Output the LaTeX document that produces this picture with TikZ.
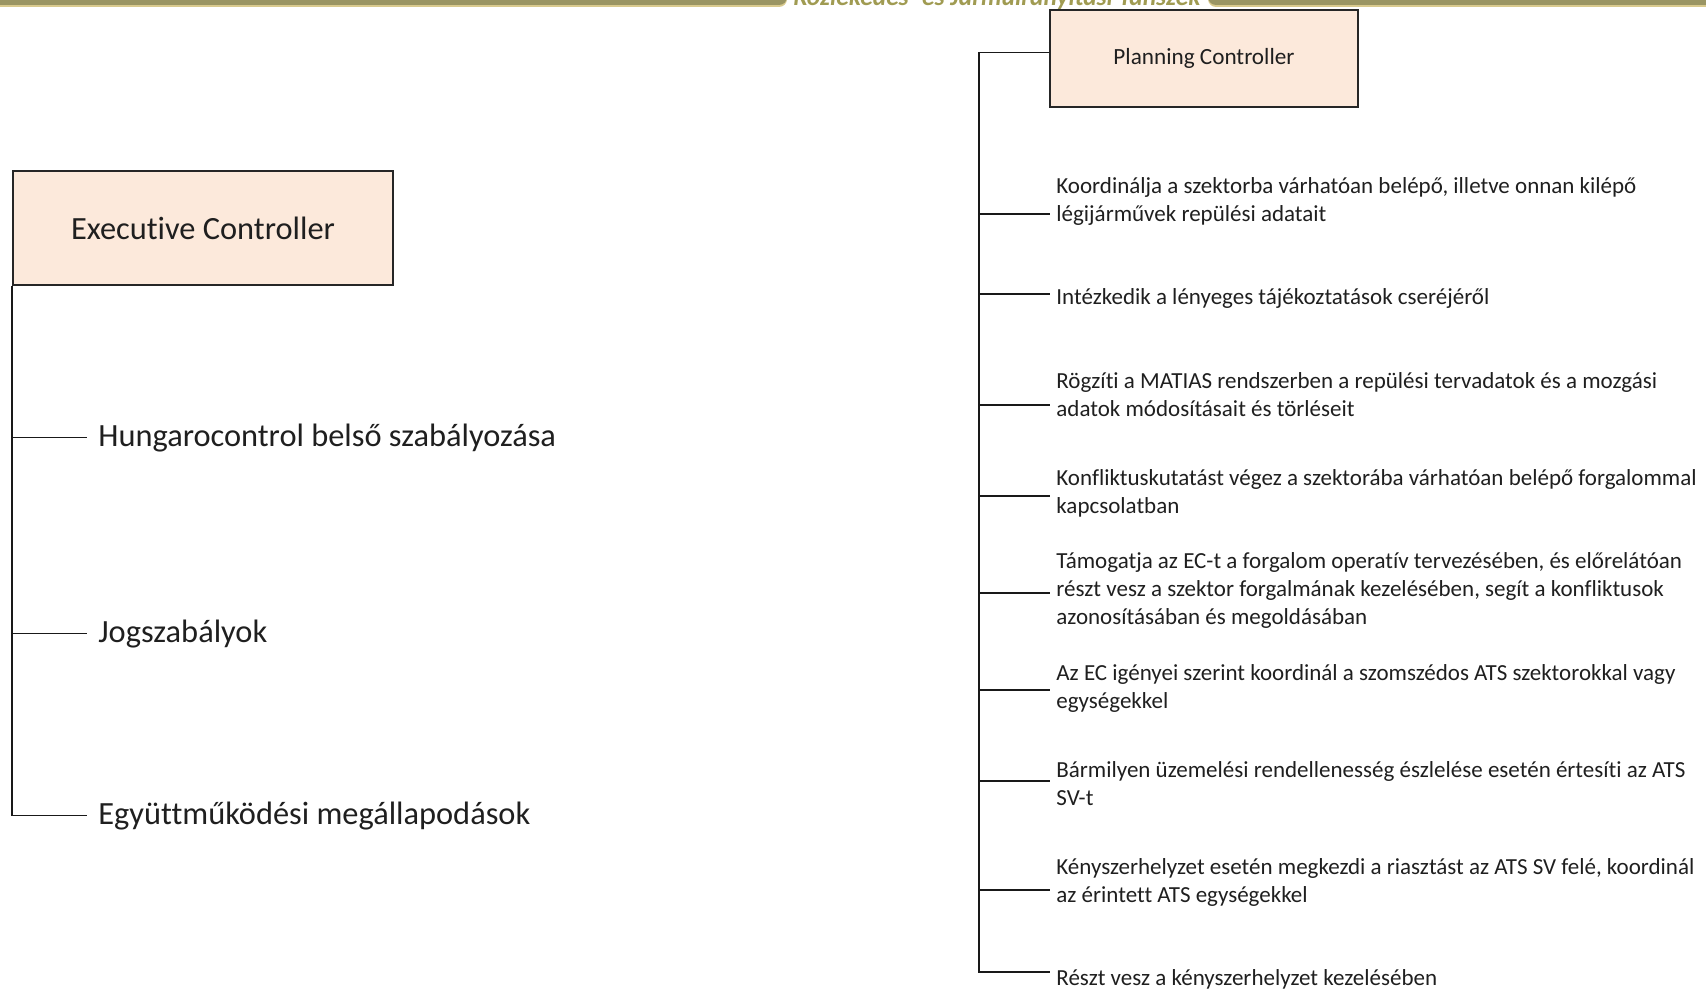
\documentclass[tikz,border=0pt]{standalone}
\usepackage{fontspec}
\setmainfont{Carlito}[Ligatures=NoCommon]
\usetikzlibrary{calc,positioning}
\definecolor{bandolive}{HTML}{9A9563}
\definecolor{bandedge}{HTML}{D9CA8E}
\definecolor{depttext}{HTML}{A09B52}
\definecolor{rolefill}{HTML}{FCE9DB}

\begin{document}
\begin{tikzpicture}[x=0.5pt,y=-0.5pt,
        role/.style={draw=black!85,line width=1pt,fill=rolefill,inner sep=0pt},
        branch/.style={line width=0.95pt,black!90},
        source/.style={anchor=base west,inner sep=0pt,text=black!88,font=\fontsize{16.2}{19}\selectfont},
        duty/.style={anchor=base west,align=left,inner sep=0pt,text=black!88,font=\fontsize{11.5}{13.9}\selectfont}
    ]

    \useasboundingbox (0,0) rectangle (1706,990);
    \clip (0,0) rectangle (1706,990);

    % --- Header band ---
    \fill[bandedge,rounded corners=4pt] (-20,-20) rectangle (787,7);
    \fill[bandolive,rounded corners=4pt] (-20,-20) rectangle (787,5);
    \fill[bandedge,rounded corners=4pt] (1208,-20) rectangle (1730,7);
    \fill[bandolive,rounded corners=4pt] (1208,-20) rectangle (1730,5);
    \node[anchor=base,inner sep=0pt,text=depttext,font=\fontsize{12.7}{14}\selectfont\bfseries\itshape] (dept) at (997,6) {Közlekedés- és Járműirányítási Tanszék};

    % --- Executive Controller ---
    \node[role,minimum width=190pt,minimum height=57pt,text=black!88,font=\fontsize{16.2}{19}\selectfont] (ec) at (203,228) {Executive Controller};
    \node[source] (rules) at (98,446) {Hungarocontrol belső szabályozása};
    \node[source] (laws) at (98,642) {Jogszabályok};
    \node[source] (agree) at (98,824) {Együttműködési megállapodások};
    \draw[branch] (ec.south west) |- ([xshift=-5.5pt]agree.west);
    \draw[branch] (rules.west -| ec.south west) -- ([xshift=-5.5pt]rules.west);
    \draw[branch] (laws.west -| ec.south west) -- ([xshift=-5.5pt]laws.west);

    % --- Planning Controller ---
    \node[role,minimum width=154pt,minimum height=48.5pt,text=black!88,font=\fontsize{11.6}{14}\selectfont] (pc) at (1204,58.5) {Planning Controller};
    \coordinate (pctop) at ($([yshift=3pt]pc.west)+(-35pt,0)$);

    % base of each text = baseline of its last line
    \node[duty] (d1) at (1056,221) {Koordinálja a szektorba várhatóan belépő, illetve onnan kilépő\\légijárművek repülési adatait};
    \node[duty] (d2) at (1056,304) {Intézkedik a lényeges tájékoztatások cseréjéről};
    \node[duty] (d3) at (1056,416) {Rögzíti a MATIAS rendszerben a repülési tervadatok és a mozgási\\adatok módosításait és törléseit};
    \node[duty] (d4) at (1056,513) {Konfliktuskutatást végez a szektorába várhatóan belépő forgalommal\\kapcsolatban};
    \node[duty] (d5) at (1056,624) {Támogatja az EC-t a forgalom operatív tervezésében, és előrelátóan\\részt vesz a szektor forgalmának kezelésében, segít a konfliktusok\\azonosításában és megoldásában};
    \node[duty] (d6) at (1056,708) {Az EC igényei szerint koordinál a szomszédos ATS szektorokkal vagy\\egységekkel};
    \node[duty] (d7) at (1056,805) {Bármilyen üzemelési rendellenesség észlelése esetén értesíti az ATS\\SV-t};
    \node[duty] (d8) at (1056,902) {Kényszerhelyzet esetén megkezdi a riasztást az ATS SV felé, koordinál\\az érintett ATS egységekkel};
    \node[duty] (d9) at (1056,985) {Részt vesz a kényszerhelyzet kezelésében};

    % branch ends, just left of each text
    \coordinate (b1) at (1050,214);
    \coordinate (b2) at (1050,294);
    \coordinate (b3) at (1050,405);
    \coordinate (b4) at (1050,496);
    \coordinate (b5) at (1050,593);
    \coordinate (b6) at (1050,690);
    \coordinate (b7) at (1050,781);
    \coordinate (b8) at (1050,890);
    \coordinate (b9) at (1050,972);

    \draw[branch] ([yshift=3pt]pc.west) -- (pctop) |- (b9);
    \draw[branch] (pctop |- b1) -- (b1);
    \draw[branch] (pctop |- b2) -- (b2);
    \draw[branch] (pctop |- b3) -- (b3);
    \draw[branch] (pctop |- b4) -- (b4);
    \draw[branch] (pctop |- b5) -- (b5);
    \draw[branch] (pctop |- b6) -- (b6);
    \draw[branch] (pctop |- b7) -- (b7);
    \draw[branch] (pctop |- b8) -- (b8);

\end{tikzpicture}
\end{document}
